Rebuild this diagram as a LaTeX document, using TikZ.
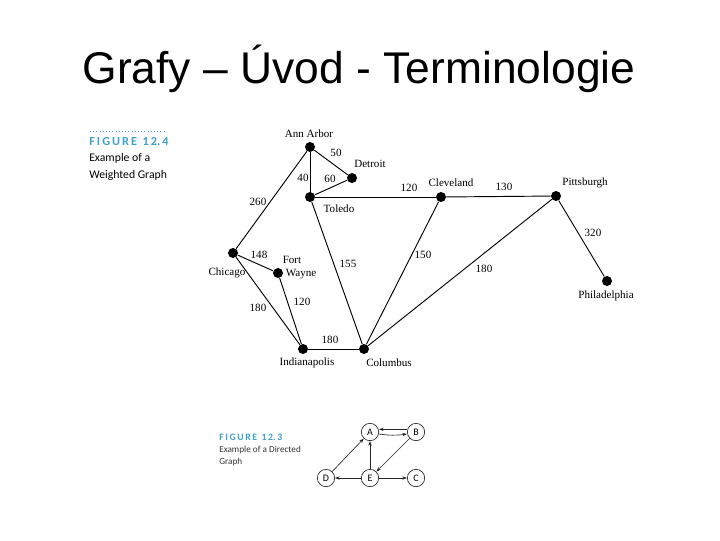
\documentclass[tikz,border=0pt]{standalone}
\usepackage{fontspec}
\setmainfont{Liberation Serif}
\newfontfamily\arialf{Liberation Sans}
\newfontfamily\capf{Carlito}
\usetikzlibrary{arrows.meta}
\definecolor{figteal}{RGB}{62,160,200}
\tikzset{
  city/.style={circle,fill=black,inner sep=0pt,minimum size=7.5pt},
  road/.style={line width=0.7pt},
  cityname/.style={font=\fontsize{8.3}{9}\selectfont,inner sep=0pt},
  wt/.style={font=\fontsize{8.3}{9}\selectfont,inner sep=0pt},
  vert/.style={circle,draw=black!85,line width=0.5pt,minimum size=13pt,inner sep=0pt,font=\capf\fontsize{7.5}{8}\selectfont},
  darr/.style={line width=0.5pt,draw=black!85,-{Stealth[length=3.5pt,width=2.5pt]}},
  figlab/.style={font=\capf\bfseries\fontsize{9.2}{10}\selectfont,text=figteal,inner sep=0pt,anchor=west},
  capline/.style={font=\capf\fontsize{8.8}{12.7}\selectfont,inner sep=0pt,anchor=west,align=left}
}
\begin{document}
\begin{tikzpicture}[x=0.75pt,y=-0.75pt]
\useasboundingbox (0,0) rectangle (720,540);
% title
\node[font=\arialf\fontsize{33.3}{38}\selectfont,inner sep=0pt] (title) at (359,69) {Grafy – Úvod - Terminologie};

% caption 12.4
\draw[dotted,line width=0.4pt,figteal] (90,131) -- (165,131);
\node[figlab] (f124) at (89,142) {F\,I\,G\,U\,R\,E\ \ 1\,2.\,4};
\node[capline] (c124) at (89,167) {Example of a\\Weighted Graph};

% cities
\node[city] (ann) at (310,147) {};
\node[city] (det) at (352,178) {};
\node[city] (tol) at (310,197) {};
\node[city] (cle) at (441,197) {};
\node[city] (pit) at (556,196) {};
\node[city] (phi) at (607,281) {};
\node[city] (chi) at (233,253) {};
\node[city] (fw)  at (278,273) {};
\node[city] (ind) at (303,349) {};
\node[city] (col) at (364,349) {};

% city names
\node[cityname] (lann) at (309,134) {Ann Arbor};
\node[cityname] (ldet) at (370,164) {Detroit};
\node[cityname] (ltol) at (339,209) {Toledo};
\node[cityname] (lcle) at (451,183) {Cleveland};
\node[cityname] (lpit) at (585,183) {Pittsburgh};
\node[cityname] (lphi) at (606,296) {Philadelphia};
\node[cityname] (lchi) at (227,273) {Chicago};
\node[cityname] (lfw1) at (292,260) {Fort};
\node[cityname] (lfw2) at (301,274) {Wayne};
\node[cityname] (lind) at (307,363) {Indianapolis};
\node[cityname] (lcol) at (389,363) {Columbus};

% roads
\draw[road] (ann) -- (det);
\draw[road] (ann) -- (tol);
\draw[road] (det) -- (tol);
\draw[road] (ann) -- (chi);
\draw[road] (tol) -- (cle);
\draw[road] (cle) -- (pit);
\draw[road] (pit) -- (phi);
\draw[road] (chi) -- (fw);
\draw[road] (chi) -- (ind);
\draw[road] (fw) -- (ind);
\draw[road] (tol) -- (col);
\draw[road] (cle) -- (col);
\draw[road] (pit) -- (col);
\draw[road] (ind) -- (col);

% weights
\node[wt] (w1) at (336,153) {50};
\node[wt] (w2) at (303,178) {40};
\node[wt] (w3) at (330,179) {60};
\node[wt] (w4) at (258,202) {260};
\node[wt] (w5) at (409,188) {120};
\node[wt] (w6) at (504,187) {130};
\node[wt] (w7) at (593,233) {320};
\node[wt] (w8) at (259,255) {148};
\node[wt] (w9) at (258,308) {180};
\node[wt] (w10) at (302,302) {120};
\node[wt] (w11) at (348,264) {155};
\node[wt] (w12) at (423,255) {150};
\node[wt] (w13) at (484,269) {180};
\node[wt] (w14) at (330,340) {180};

% caption 12.3
\node[figlab,font=\capf\bfseries\fontsize{7.3}{8}\selectfont] (f123) at (219,437) {F\,I\,G\,U\,R\,E\ \ 1\,2.\,3};
\node[capline,font=\capf\fontsize{6.9}{9}\selectfont,text=black!80] (c123) at (219,456) {Example of a Directed\\Graph};

% directed graph
\node[vert] (A) at (370,432) {A};
\node[vert] (B) at (416,432) {B};
\node[vert] (D) at (326,478) {D};
\node[vert] (E) at (370,478) {E};
\node[vert] (C) at (416,478) {C};
\draw[darr] ([yshift=2pt]B.west) -- ([yshift=2pt]A.east);
\draw[darr] ([yshift=-1.5pt]A.east) to[bend right=8] ([yshift=-1.5pt]B.west);
\draw[darr] (D) -- (A);
\draw[darr] (E) -- (A);
\draw[darr] (B) -- (E);
\draw[darr] (E) -- (D);
\draw[darr] (E) -- (C);
\end{tikzpicture}
\end{document}
